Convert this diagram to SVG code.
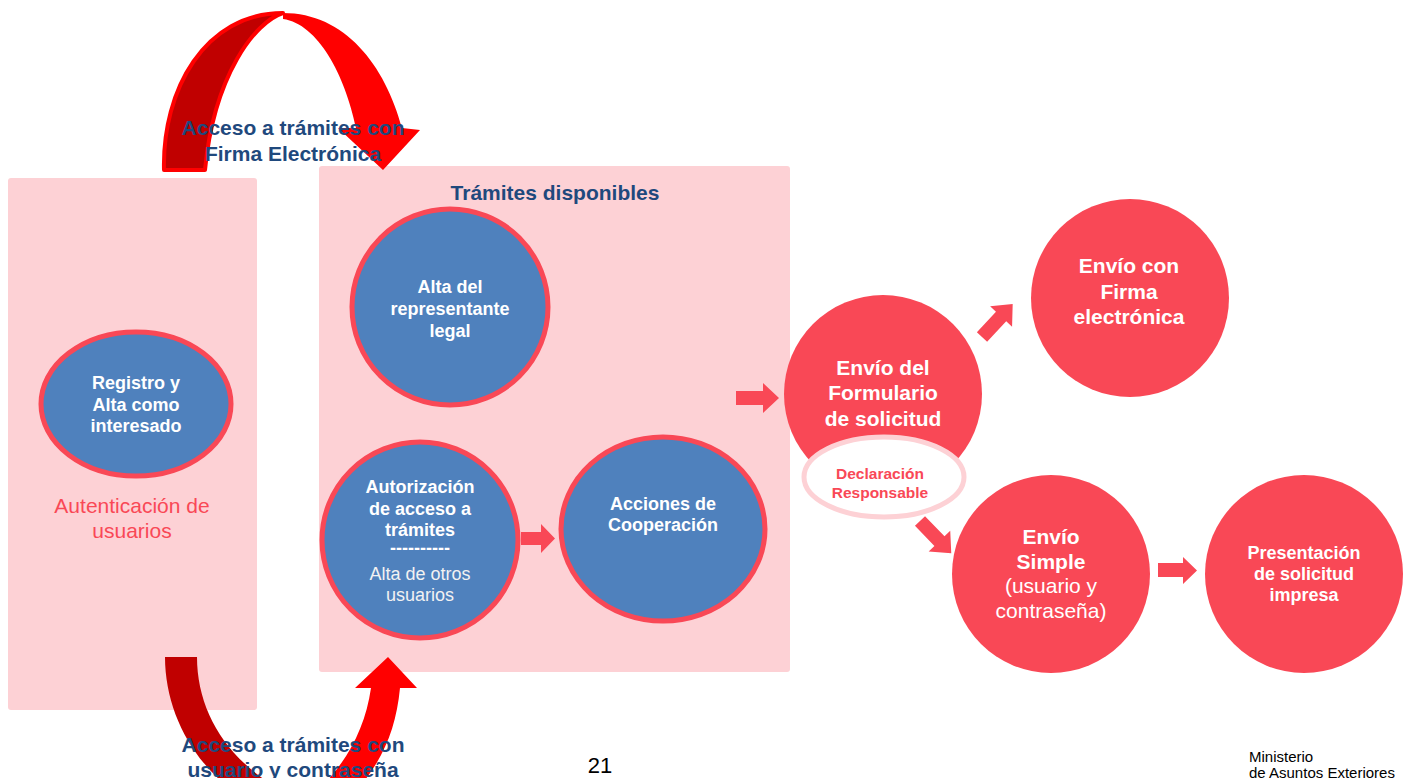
<svg xmlns="http://www.w3.org/2000/svg" width="1408" height="778" viewBox="0 0 1408 778">
<style>
.panel{fill:#fdd1d5}
.blue{fill:#4f81bd;stroke:#f94856;stroke-width:5}
.red{fill:#f94856}
.arr{fill:#f94856}
text{font-family:"Liberation Sans",Arial,sans-serif;text-anchor:middle}
.b{font-weight:bold}
.w{fill:#ffffff}
.navy{fill:#1f497d}
.pink{fill:#f94856}
.dark{fill:#c00000}
.bright{fill:#ff0000}
</style>
<rect width="1408" height="778" fill="#ffffff"/>
<g id="panel-autenticacion">
<rect class="panel" x="8" y="178" width="249" height="532" rx="3"/>
<text x="132" y="513" font-size="21" class="pink">Autenticación de</text>
<text x="132" y="538" font-size="21" class="pink">usuarios</text>
</g>
<g id="panel-tramites">
<rect class="panel" x="319" y="166" width="471" height="506" rx="3"/>
<text x="555" y="200" font-size="21" class="b navy">Trámites disponibles</text>
</g>
<g id="node-registro">
<ellipse class="blue" cx="136" cy="404" rx="95" ry="72"/>
<text class="b w" font-size="18"><tspan x="136" y="389">Registro y</tspan><tspan x="136" y="411">Alta como</tspan><tspan x="136" y="432">interesado</tspan></text>
</g>
<g id="node-alta-representante">
<circle class="blue" cx="450" cy="307" r="98"/>
<text class="b w" font-size="18"><tspan x="450" y="293">Alta del</tspan><tspan x="450" y="315">representante</tspan><tspan x="450" y="337">legal</tspan></text>
</g>
<g id="node-autorizacion">
<circle class="blue" cx="420" cy="540" r="98"/>
<text class="b w" font-size="18"><tspan x="420" y="493">Autorización</tspan><tspan x="420" y="515">de acceso a</tspan><tspan x="420" y="536">trámites</tspan><tspan x="420" y="554">----------</tspan></text>
<text fill="#f2f2f2" font-size="18"><tspan x="420" y="580">Alta de otros</tspan><tspan x="420" y="601">usuarios</tspan></text>
</g>
<g id="node-acciones">
<ellipse class="blue" cx="663" cy="529" rx="102" ry="92"/>
<text class="b w" font-size="18"><tspan x="663" y="510">Acciones de</tspan><tspan x="663" y="531">Cooperación</tspan></text>
</g>
<g id="node-envio-formulario">
<circle class="red" cx="883" cy="394" r="99"/>
<text class="b w" font-size="21"><tspan x="883" y="375">Envío del</tspan><tspan x="883" y="400">Formulario</tspan><tspan x="883" y="426">de solicitud</tspan></text>
</g>
<g id="node-declaracion">
<ellipse cx="884" cy="477" rx="80" ry="40" fill="#ffffff" stroke="#fdd1d5" stroke-width="5"/>
<text class="b pink" font-size="15.5"><tspan x="880" y="479">Declaración</tspan><tspan x="880" y="498">Responsable</tspan></text>
</g>
<g id="node-envio-firma">
<circle class="red" cx="1130" cy="298" r="99"/>
<text class="b w" font-size="21"><tspan x="1129" y="273">Envío con</tspan><tspan x="1129" y="299">Firma</tspan><tspan x="1129" y="324">electrónica</tspan></text>
</g>
<g id="node-envio-simple">
<circle class="red" cx="1051" cy="574" r="99"/>
<text class="b w" font-size="21"><tspan x="1051" y="544">Envío</tspan><tspan x="1051" y="569">Simple</tspan></text>
<text class="w" font-size="21"><tspan x="1051" y="593">(usuario y</tspan><tspan x="1051" y="618">contraseña)</tspan></text>
</g>
<g id="node-presentacion">
<circle class="red" cx="1304" cy="574" r="99"/>
<text class="b w" font-size="18"><tspan x="1304" y="559">Presentación</tspan><tspan x="1304" y="580">de solicitud</tspan><tspan x="1304" y="601">impresa</tspan></text>
</g>
<g id="connectors">
<polygon class="arr" points="736,391 763,391 763,383 779,398 763,413 763,405 736,405"/>
<polygon class="arr" points="521,532 541,532 541,524 555,538.5 541,553 541,545 521,545"/>
<polygon class="arr" points="1158,563 1183,563 1183,557 1197,570.5 1183,584 1183,577 1158,577"/>
<polygon class="arr" transform="translate(982,337) rotate(-47)" points="0,-7 28,-7 28,-15 45,0 28,15 28,7 0,7"/>
<polygon class="arr" transform="translate(920,521) rotate(46)" points="0,-7 28,-7 28,-15 45,0 28,15 28,7 0,7"/>
<g id="arc-top">
<path class="dark" stroke="#ff0000" stroke-width="4" stroke-linejoin="round" d="M164,170 C162,90 205,13 283,13 C255,22 214,75 205,170 Z"/>
<path class="bright" d="M283,13 C345,13 385,65 402,128 L420,130 L383,170 L338,128 L356,128 C345,75 318,24 283,19 Z"/>
</g>
<g id="arc-bottom">
<path class="dark" d="M165,657 L197,657 C197,712 228,762 285,792 L262,808 C205,782 165,722 165,657 Z"/>
<path class="bright" d="M371,688 L355,688 L388,657 L417,688 L400,688 C396,730 382,762 355,792 L316,792 C345,765 365,730 371,688 Z"/>
</g>
</g>
<g id="labels">
<text class="b navy" font-size="21"><tspan x="293" y="135">Acceso a trámites con</tspan><tspan x="293" y="161">Firma Electrónica</tspan></text>
<text class="b navy" font-size="21"><tspan x="293" y="752">Acceso a trámites con</tspan><tspan x="293" y="777">usuario y contraseña</tspan></text>
<text x="600" y="773" font-size="22" fill="#000000">21</text>
<text font-size="15" fill="#000000" style="text-anchor:start"><tspan x="1249" y="762">Ministerio</tspan><tspan x="1249" y="778">de Asuntos Exteriores</tspan></text>
</g>
</svg>
